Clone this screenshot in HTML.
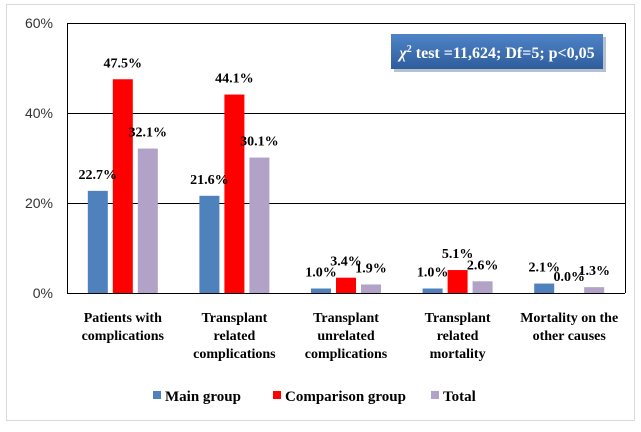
<!DOCTYPE html>
<html><head><meta charset="utf-8"><style>
body{margin:0;background:#fff}
svg text{font-family:"Liberation Serif",serif;font-weight:bold}
</style></head><body>
<svg width="641" height="427" xmlns="http://www.w3.org/2000/svg">
<defs><linearGradient id="bg" x1="0" y1="0" x2="0" y2="1"><stop offset="0" stop-color="#4f84c8"/><stop offset="1" stop-color="#2f5d9c"/></linearGradient></defs>
<rect x="6.5" y="4.5" width="628" height="416" fill="#fff" stroke="#d9d9d9"/>
<g id="grid"></g><g id="bars"></g><g id="labels"></g>
<rect x="394" y="37" width="212" height="35" fill="#2a4a7a" opacity="0.35"/>
<rect x="391" y="34" width="212" height="35" fill="url(#bg)"/>
<text x="497" y="58" fill="#fff" font-size="16" text-anchor="middle"><tspan font-style="italic">χ</tspan><tspan font-size="10" dy="-6">2</tspan><tspan dy="6"> test =11,624; Df=5; p&lt;0,05</tspan></text>
<g>
<rect x="153" y="391" width="8" height="8" fill="#4f81bd"/>
<text x="165" y="401" font-size="15">Main group</text>
<rect x="273" y="391" width="8" height="8" fill="#ff0000"/>
<text x="285" y="401" font-size="15">Comparison group</text>
<rect x="431" y="391" width="8" height="8" fill="#b2a2c7"/>
<text x="443" y="401" font-size="15">Total</text>
</g>
</svg>
<script>
const categories=[["Patients with","complications"],["Transplant","related","complications"],["Transplant","unrelated","complications"],["Transplant","related","mortality"],["Mortality on the","other causes"]];
const mainGroup=[22.7,21.6,1.0,1.0,2.1];
const comparisonGroup=[47.5,44.1,3.4,5.1,0.0];
const totalGroup=[32.1,30.1,1.9,2.6,1.3];
const yTicks=[0,20,40,60];
const NS="http://www.w3.org/2000/svg";
const x0=67,x1=625,yb=293,yt=23;
const y=v=>yb-(v/60)*(yb-yt);
const cw=(x1-x0)/categories.length;
function mk(tag,at,parent,txt){const e=document.createElementNS(NS,tag);for(const k in at)e.setAttribute(k,at[k]);if(txt!=null)e.textContent=txt;parent.appendChild(e);return e;}
const grid=document.getElementById('grid'),bars=document.getElementById('bars'),labels=document.getElementById('labels');
yTicks.forEach(t=>{
  const l=mk('line',{x1:x0,x2:x1,y1:y(t)+0.5,y2:y(t)+0.5,stroke:'#000','stroke-width':1},grid);
  
  
  const tx=mk('text',{x:53,y:y(t)+5,'font-size':14,'text-anchor':'end',style:'font-family:"Liberation Sans",sans-serif;font-weight:normal',fill:'#333'},grid,t+'%');
  
  
});
const ax=mk('line',{x1:x0+0.5,x2:x0+0.5,y1:yt,y2:yb,stroke:'#000'},grid);


const rx=mk('line',{x1:x1+0.5,x2:x1+0.5,y1:yt,y2:yb,stroke:'#000'},grid);


const series=[[mainGroup,'#4f81bd','main'],[comparisonGroup,'#ff0000','comparison'],[totalGroup,'#b2a2c7','total']];
const bw=20,gap=5;
categories.forEach((c,i)=>{
  const cx=x0+cw*(i+0.5);
  series.forEach((s,j)=>{
    const v=s[0][i];const bx=cx+(j-1)*(bw+gap)-bw/2;
    const r=mk('rect',{x:bx,y:y(v),width:bw,height:yb-y(v),fill:s[1]},bars);
    
    
    const t=mk('text',{x:bx+bw/2,y:y(v)-12,'font-size':14,'text-anchor':'middle'},labels,v.toFixed(1)+'%');
    
    
  });
  const t=mk('text',{x:cx,y:322,'font-size':14,'text-anchor':'middle'},labels);
  
  
  c.forEach((ln,k)=>mk('tspan',{x:cx,dy:k?18:0},t,ln));
});
</script>
</body></html>
